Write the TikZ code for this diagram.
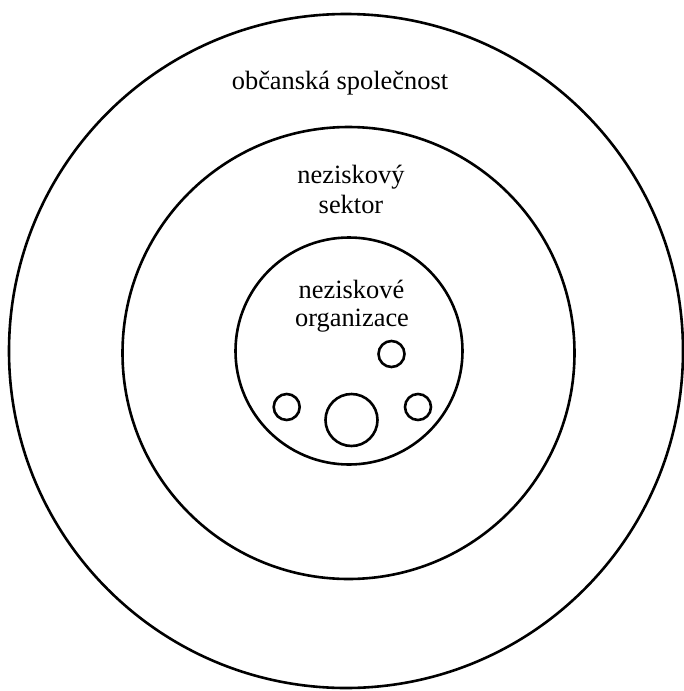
\documentclass[tikz,border=0pt]{standalone}
\usepackage{fontspec}
\setmainfont{Liberation Serif}
\begin{document}
\begin{tikzpicture}[x=1pt,y=-1pt,
  ring/.style={circle,draw=black,line width=2.6pt,inner sep=0pt,fill=none},
  lbl/.style={anchor=base,inner sep=0pt,font=\fontsize{26.4}{30}\selectfont}]
\useasboundingbox (0,0) rectangle (683,691);
\fill[white] (0,0) rectangle (683,691);
\node[ring,minimum size=674pt] (outer) at (346,351) {};
\node[ring,minimum size=452pt] (middle) at (348.5,353) {};
\node[ring,minimum size=227pt] (inner) at (349,351) {};
\node[ring,minimum size=26pt] (s1) at (391.5,354) {};
\node[ring,minimum size=26pt] (s2) at (286.7,407) {};
\node[ring,minimum size=52pt] (s3) at (351.5,420) {};
\node[ring,minimum size=26pt] (s4) at (418,407) {};
\node[lbl] (t1) at (340,89) {občanská společnost};
\node[lbl] (t2) at (351,183) {neziskový};
\node[lbl] (t3) at (351,213) {sektor};
\node[lbl] (t4) at (351.5,298) {neziskové};
\node[lbl] (t5) at (352,326) {organizace};
\end{tikzpicture}
\end{document}
